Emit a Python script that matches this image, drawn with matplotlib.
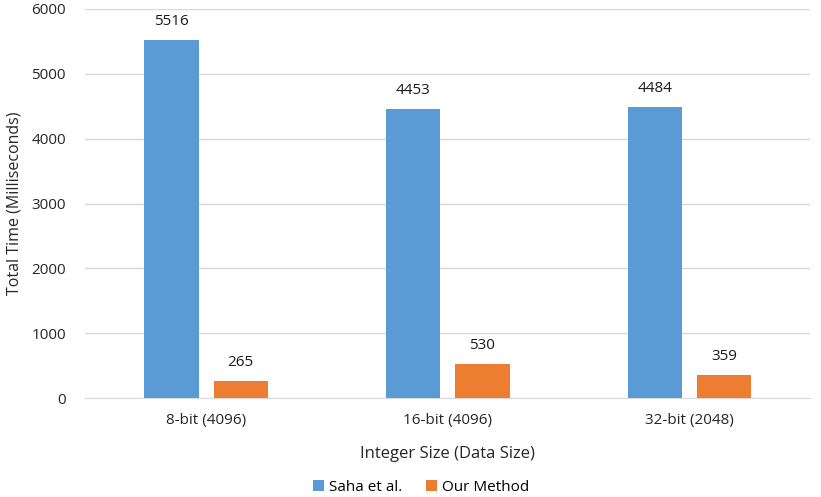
import matplotlib.pyplot as plt
import numpy as np

plt.rcParams['font.family'] = ['Open Sans', 'DejaVu Sans']

categories = ["8-bit (4096)", "16-bit (4096)", "32-bit (2048)"]
saha = [5516, 4453, 4484]
ours = [265, 530, 359]

fig = plt.figure(figsize=(8.21, 4.97), dpi=100)
ax = fig.add_axes([0.104, 0.199, 0.883, 0.783])

x = np.arange(len(categories))
w = 0.225
b1 = ax.bar(x - 0.143, saha, w, color='#5B9BD5', label='Saha et al.', zorder=3)
b2 = ax.bar(x + 0.143, ours, w, color='#ED7D31', label='Our Method', zorder=3)

for bars in (b1, b2):
    for r in bars:
        ax.text(r.get_x() + r.get_width() / 2, r.get_height() + 170, f"{int(r.get_height())}",
                ha='center', va='bottom', fontsize=11, color='#1a1a1a')

ax.set_xlim(-0.5, 2.5)
ax.set_ylim(0, 6000)
ax.set_yticks(range(0, 6001, 1000))
ax.set_xticks(x)
ax.set_xticklabels(categories)
ax.tick_params(axis='both', length=0, labelsize=11, colors='#262626')
ax.tick_params(axis='x', pad=11)
ax.tick_params(axis='y', pad=14)
ax.grid(axis='y', color='#d9d9d9', linewidth=1, zorder=0)
for s in ['top', 'right', 'left']:
    ax.spines[s].set_visible(False)
ax.spines['bottom'].set_color('#d9d9d9')

ax.set_xlabel("Integer Size (Data Size)", fontsize=12, color='#262626', labelpad=13)
ax.set_ylabel("Total Time (Milliseconds)", fontsize=11.5, color='#262626', labelpad=6)

fig.legend(handles=[b1, b2], loc='center', bbox_to_anchor=(0.513, 0.02), ncol=2, frameon=False,
           fontsize=11, handlelength=0.7, handleheight=0.7, handletextpad=0.3, columnspacing=1.6)

fig.savefig("out.png", dpi=100)
